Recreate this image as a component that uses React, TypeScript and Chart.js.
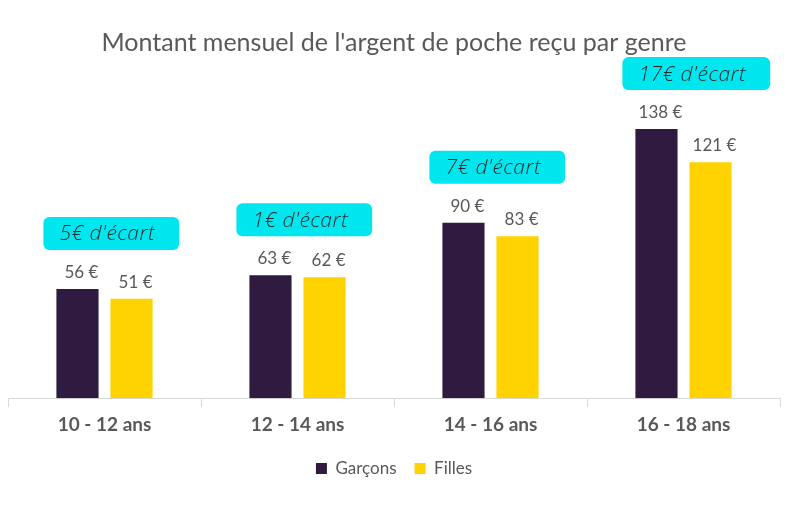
import { useEffect, useRef } from 'react';
import { Chart, registerables, Plugin } from 'chart.js';

Chart.register(...registerables);

const categories = ['10 - 12 ans', '12 - 14 ans', '14 - 16 ans', '16 - 18 ans'];
const garcons = [56, 63, 90, 138];
const filles = [51, 62, 83, 121];
const ecarts = ['5€ d\'écart', '1€ d\'écart', '7€ d\'écart', '17€ d\'écart'];

const DARK = '#2f1a40';
const YELLOW = '#ffd200';
const CYAN = '#00e6ef';
const GREY = '#595959';

// value labels above each bar
const valueLabels: Plugin<'bar'> = {
  id: 'valueLabels',
  afterDatasetsDraw(chart) {
    const ctx = chart.ctx;
    ctx.save();
    ctx.font = '17px Lato, sans-serif';
    ctx.fillStyle = GREY;
    ctx.textAlign = 'center';
    ctx.textBaseline = 'alphabetic';
    chart.data.datasets.forEach((ds, di) => {
      const meta = chart.getDatasetMeta(di);
      meta.data.forEach((bar: any, i) => {
        ctx.fillText(`${ds.data[i]} €`, bar.x + 4, bar.y - 11);
      });
    });
    ctx.restore();
  },
};

// cyan "écart" badges above each group
const gapBadges: Plugin<'bar'> = {
  id: 'gapBadges',
  afterDatasetsDraw(chart) {
    const ctx = chart.ctx;
    const meta = chart.getDatasetMeta(0);
    ctx.save();
    ctx.font = 'italic 300 21px "Open Sans", sans-serif';
    (ctx as any).letterSpacing = '0.5px';
    ctx.textBaseline = 'middle';
    ctx.textAlign = 'left';
    meta.data.forEach((bar: any, i) => {
      const text = ecarts[i];
      const tw = ctx.measureText(text).width;
      const left = bar.x - bar.width / 2 - 13;
      const w = tw + 40;
      const h = 33;
      const bottom = bar.y - 39;
      ctx.fillStyle = CYAN;
      ctx.beginPath();
      ctx.roundRect(left, bottom - h, w, h, 6);
      ctx.fill();
      ctx.fillStyle = '#2b2b2b';
      ctx.fillText(text, left + 16, bottom - h / 2 + 1);
    });
    ctx.restore();
  },
};

export default function App() {
  const canvasRef = useRef<HTMLCanvasElement>(null);
  const chartRef = useRef<Chart | null>(null);

  useEffect(() => {
    document.body.style.margin = '0';
    if (!canvasRef.current) return;

    chartRef.current = new Chart(canvasRef.current, {
      type: 'bar',
      data: {
        labels: categories,
        datasets: [
          {
            label: 'Garçons',
            data: garcons,
            backgroundColor: DARK,
            categoryPercentage: 0.56,
            barPercentage: 0.78,
          },
          {
            label: 'Filles',
            data: filles,
            backgroundColor: YELLOW,
            categoryPercentage: 0.56,
            barPercentage: 0.78,
          },
        ],
      },
      options: {
        responsive: false,
        animation: false,
        layout: { padding: { top: 28, left: 8, right: 20, bottom: 32 } },
        scales: {
          y: { display: false, min: 0, max: 171.4 },
          x: {
            grid: {
              drawOnChartArea: false,
              drawTicks: true,
              tickLength: 9,
              color: '#d9d9d9',
            },
            border: { color: '#d9d9d9', width: 1 },
            ticks: {
              color: GREY,
              padding: 6,
              font: { family: 'Lato, sans-serif', size: 19, weight: 'bold' },
            },
          },
        },
        plugins: {
          title: {
            display: true,
            text: "Montant mensuel de l'argent de poche reçu par genre",
            color: GREY,
            font: { family: 'Lato, sans-serif', size: 25, weight: 'normal' },
            padding: { top: 0, bottom: 6 },
          },
          legend: {
            position: 'bottom',
            labels: {
              color: GREY,
              boxWidth: 11,
              boxHeight: 11,
              padding: 18,
              font: { family: 'Lato, sans-serif', size: 17 },
            },
          },
          tooltip: { enabled: false },
        },
      },
      plugins: [valueLabels, gapBadges],
    });

    return () => {
      chartRef.current?.destroy();
    };
  }, []);

  return (
    <div style={{ width: 800, height: 519, background: '#fff' }}>
      <canvas ref={canvasRef} width={800} height={519} />
    </div>
  );
}
